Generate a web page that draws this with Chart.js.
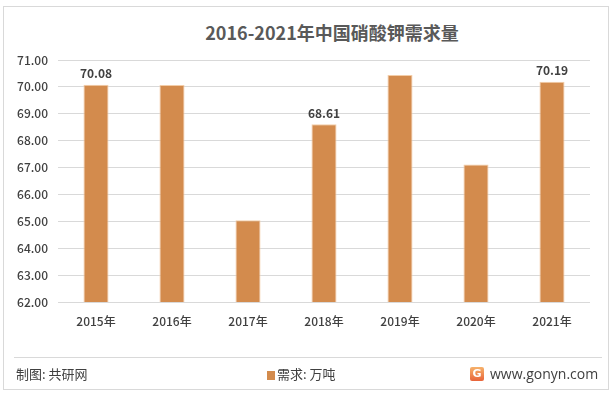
<!DOCTYPE html>
<html><head><meta charset="utf-8">
<script src="https://cdn.jsdelivr.net/npm/chart.js@4/dist/chart.umd.min.js"></script>
<style>
html,body{margin:0;padding:0;background:#fff;}
#wrap{position:relative;width:614px;height:394px;overflow:hidden;font-family:"Noto Sans CJK SC","Noto Sans",sans-serif;}
#frame{position:absolute;left:3px;top:6px;width:606px;height:384px;border:1px solid #d9d9d9;box-sizing:border-box;}
#title{position:absolute;left:0;top:20px;width:664px;text-align:center;font-weight:bold;font-size:18px;color:#595959;line-height:24px;}
#sep{position:absolute;left:14px;top:357px;width:588px;height:1px;background:#d9d9d9;}
.ft{position:absolute;top:365px;font-size:13px;color:#404040;line-height:18px;}
#maker{left:16px;}
#leg{left:267px;}
#leg i{display:inline-block;width:8px;height:9px;background:#D38B4D;margin-right:2px;vertical-align:-1px;}
#site{left:490px;font-family:"Open Sans",sans-serif;font-size:14px;}
#logo{position:absolute;left:470px;top:367px;width:14px;height:14px;background:linear-gradient(#f6b26b,#e8643a);border-radius:2px;color:#fff;font-size:11px;font-weight:bold;text-align:center;line-height:14px;font-family:"DejaVu Sans",sans-serif;}
canvas{position:absolute;left:0;top:0;}
</style></head>
<body><div id="wrap">
<div id="frame"></div>
<div id="title">2016-2021年中国硝酸钾需求量</div>
<canvas id="c" width="614" height="394"></canvas>
<div id="sep"></div>
<div class="ft" id="maker">制图: 共研网</div>
<div class="ft" id="leg"><i></i>需求: 万吨</div>
<div id="logo">G</div>
<div class="ft" id="site">www.gonyn.com</div>
</div>
<script>
const categories = ['2015年','2016年','2017年','2018年','2019年','2020年','2021年'];
const demand = [70.08, 70.07, 65.04, 68.61, 70.44, 67.11, 70.19];
const labelShown = [true, false, false, true, false, false, true];
const seriesName = '需求: 万吨';
const yMin = 62, yMax = 71;

const valueLabels = {
  id: 'valueLabels',
  afterDatasetsDraw(chart) {
    const ctx = chart.ctx;
    const meta = chart.getDatasetMeta(0);
    ctx.save();
    ctx.font = 'bold 12px "Noto Sans CJK SC", "Noto Sans", sans-serif';
    ctx.fillStyle = '#404040';
    ctx.textAlign = 'center';
    ctx.textBaseline = 'bottom';
    meta.data.forEach((bar, i) => {
      if (labelShown[i]) ctx.fillText(demand[i].toFixed(2), bar.x, bar.y - 5);
    });
    ctx.restore();
  }
};

const tickFont = { size: 12, weight: '500', family: '"Noto Sans CJK SC", sans-serif' };

new Chart(document.getElementById('c'), {
  type: 'bar',
  data: {
    labels: categories,
    datasets: [{
      label: seriesName,
      data: demand,
      backgroundColor: '#D38B4D',
      borderColor: '#F3CDA8',
      borderWidth: 1,
      barPercentage: 0.33,
      categoryPercentage: 1.0
    }]
  },
  options: {
    responsive: false,
    animation: false,
    layout: { padding: { left: 0, right: 24, top: 60, bottom: 60 } },
    plugins: { legend: { display: false }, title: { display: false }, tooltip: { enabled: false } },
    scales: {
      x: {
        grid: { display: false },
        border: { display: false },
        ticks: { color: '#404040', font: tickFont, padding: 4 },
        afterFit(s) { s.height = 32; }
      },
      y: {
        min: yMin, max: yMax,
        ticks: { stepSize: 1, color: '#404040', font: tickFont, padding: 10,
          callback: v => Number(v).toFixed(2) },
        grid: { color: '#d9d9d9', drawTicks: false },
        border: { display: false },
        afterFit(s) { s.width = 58; }
      }
    }
  },
  plugins: [valueLabels]
});
</script>
</body></html>
